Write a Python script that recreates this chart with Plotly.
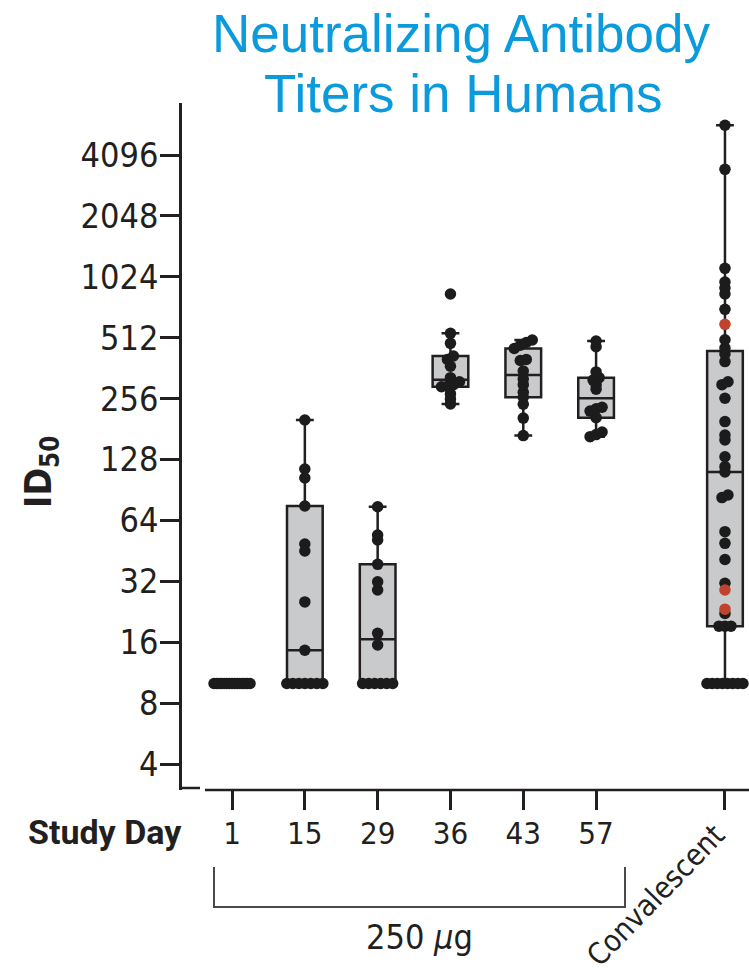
import numpy as np
import plotly.graph_objects as go

# ---------------- data ----------------
days = ['1', '15', '29', '36', '43', '57', 'Convalescent']
tick_titers = [4, 8, 16, 32, 64, 128, 256, 512, 1024, 2048, 4096]

day1 = [10] * 15
day15 = [10] * 7 + [14.6, 25.3, 45.2, 48.9, 75.4, 103.7, 114.9, 200.7]
day29 = [10] * 6 + [15.5, 17.7, 29.0, 31.8, 38.8, 51.2, 54.2, 74.8]
day36 = [241, 255, 270, 293, 295, 300, 310, 325, 370, 400, 416, 480, 538, 842]
day43 = [168, 205, 240, 260, 275, 300, 320, 350, 395, 400, 453, 470, 485, 499]
day57 = [166, 170, 175, 206, 222, 228, 232, 285, 300, 316, 325, 347, 462, 493]
convalescent = [10] * 8 + [19.2, 19.2, 19.2, 22.2, 23.3, 29, 31.3, 41, 49.3, 56.3,
                           83, 85.5, 111, 118, 132, 160, 169, 197, 257, 300, 310,
                           390, 425, 455, 500, 596, 707, 842, 901, 965, 1128,
                           3480, 5750]
convalescent_red = [23.3, 29, 596]

groups = [day1, day15, day29, day36, day43, day57, convalescent]

# ---------------- layout helpers ----------------
W, H = 749, 980
L, R, T, B = 182, 749, 103, 790          # plot area in px
xpos = [0, 1, 2, 3, 4, 5, 6.77]          # category slots (gap before convalescent)
XR = [-0.687, 7.10]
px_per_unit = (R - L) / (XR[1] - XR[0])
YR = [np.log10(2 ** 1.573), np.log10(2 ** 12.854)]


def xp(px):
    return (px - L) / (R - L)


def yp(py):
    return (B - py) / (B - T)


def quart_stats(vals):
    v = np.sort(np.log2(vals))
    n = len(v)

    def med(a):
        m = len(a)
        return a[m // 2] if m % 2 else (a[m // 2 - 1] + a[m // 2]) / 2

    median = med(v)
    if n % 2:
        lo, hi = v[:n // 2], v[n // 2 + 1:]
    else:
        lo, hi = v[:n // 2], v[n // 2:]
    q1, q3 = med(lo), med(hi)
    iqr = q3 - q1
    lf = v[v >= q1 - 1.5 * iqr].min()
    uf = v[v <= q3 + 1.5 * iqr].max()
    return [float(2 ** x) for x in (q1, median, q3, lf, uf)]


def swarm(vals, center, thr=0.06, max_w=36.0, step_px=6.0):
    lv = np.log2(np.asarray(vals, dtype=float))
    order = np.argsort(lv, kind='stable')
    offs = np.zeros(len(vals))
    clusters, cur = [], [order[0]]
    for a, b in zip(order[:-1], order[1:]):
        if lv[b] - lv[a] < thr:
            cur.append(b)
        else:
            clusters.append(cur)
            cur = [b]
    clusters.append(cur)
    for c in clusters:
        k = len(c)
        if k < 2:
            continue
        step = min(step_px, max_w / (k - 1))
        for i, idx in enumerate(c):
            offs[idx] = (i - (k - 1) / 2) * step
    return center + offs / px_per_unit


INK = '#231f20'
DOT = '#1c1c1c'
RED = '#bf432d'
BLUE = '#0b9bdc'
BOXFILL = '#c9cacc'
COND = 'DejaVu Sans Condensed, DejaVu Sans, sans-serif'

fig = go.Figure()

# boxes
for g, x in zip(groups, xpos):
    q1, med, q3, lf, uf = quart_stats(g)
    fig.add_trace(go.Box(
        x=[x], q1=[q1], median=[med], q3=[q3], lowerfence=[lf], upperfence=[uf],
        width=0.49, whiskerwidth=0.5, boxpoints=False,
        fillcolor=BOXFILL, line=dict(color=INK, width=2.5),
        showlegend=False, hoverinfo='skip'))

# points
for g, x in zip(groups[:-1], xpos[:-1]):
    fig.add_trace(go.Scatter(
        x=swarm(g, x), y=g, mode='markers',
        marker=dict(size=11.5, color=DOT, line=dict(width=0)),
        showlegend=False))

cx = swarm(convalescent, xpos[-1])
is_red = np.array([v in convalescent_red for v in convalescent])
cv = np.array(convalescent, dtype=float)
fig.add_trace(go.Scatter(x=cx[~is_red], y=cv[~is_red], mode='markers',
                         marker=dict(size=11.5, color=DOT, line=dict(width=0)),
                         showlegend=False))
fig.add_trace(go.Scatter(x=cx[is_red], y=cv[is_red], mode='markers',
                         marker=dict(size=11.5, color=RED, line=dict(width=0)),
                         showlegend=False))

# ---------------- annotations / shapes ----------------
annotations = [
    dict(text='Neutralizing Antibody', x=xp(461), y=yp(33), xref='paper', yref='paper',
         showarrow=False, xanchor='center', yanchor='middle',
         font=dict(family='Liberation Sans, Arial, sans-serif', size=53, color=BLUE)),
    dict(text='Titers in Humans', x=xp(463), y=yp(93), xref='paper', yref='paper',
         showarrow=False, xanchor='center', yanchor='middle',
         font=dict(family='Liberation Sans, Arial, sans-serif', size=53, color=BLUE)),
    dict(text='<b>ID<sub>50</sub></b>', x=xp(41), y=yp(472), xref='paper', yref='paper',
         showarrow=False, textangle=-90, xanchor='center', yanchor='middle',
         font=dict(family=COND, size=37, color=INK)),
    dict(text='<b>Study Day</b>', x=xp(184), y=yp(832), xref='paper', yref='paper',
         showarrow=False, xanchor='right', yanchor='middle',
         font=dict(family='Roboto, sans-serif', size=34, color=INK)),
    dict(text='250 <i>μ</i>g', x=xp(419), y=yp(937), xref='paper', yref='paper',
         showarrow=False, xanchor='center', yanchor='middle',
         font=dict(family=COND, size=34, color=INK)),
    dict(text=days[-1], x=xp(655), y=yp(895), xref='paper', yref='paper',
         showarrow=False, textangle=-46, xanchor='center', yanchor='middle',
         font=dict(family=COND, size=30, color=INK)),
]

shapes = [
    # x-axis line (detached from y axis)
    dict(type='line', xref='paper', yref='paper', x0=xp(205), x1=1.0, y0=yp(790), y1=yp(790),
         line=dict(color=INK, width=2.5)),
    # short foot at the bottom of the y axis
    dict(type='line', xref='paper', yref='paper', x0=xp(181), x1=xp(200), y0=yp(788), y1=yp(788),
         line=dict(color=INK, width=2.5)),
    # bracket under the 250 ug days
    dict(type='path', xref='paper', yref='paper',
         path=f'M {xp(214)},{yp(867)} L {xp(214)},{yp(907)} L {xp(625)},{yp(907)} L {xp(625)},{yp(867)}',
         line=dict(color='#4a4a4a', width=2)),
]

fig.update_layout(
    width=W, height=H,
    margin=dict(l=L, r=W - R, t=T, b=H - B, pad=0),
    paper_bgcolor='white', plot_bgcolor='white',
    annotations=annotations, shapes=shapes,
    xaxis=dict(range=XR, tickmode='array', tickvals=xpos,
               ticktext=days[:-1] + [' '],
               ticks='outside', ticklen=19, tickwidth=2.5, tickcolor=INK,
               ticklabelstandoff=-3,
               showline=False, showgrid=False, zeroline=False,
               tickfont=dict(family=COND, size=31, color=INK)),
    yaxis=dict(type='log', range=YR, tickmode='array', tickvals=tick_titers,
               ticktext=[str(t) for t in tick_titers],
               ticks='outside', ticklen=19, tickwidth=2.5, tickcolor=INK,
               ticklabelstandoff=-5,
               showline=True, linewidth=2.5, linecolor=INK,
               showgrid=False, zeroline=False,
               tickfont=dict(family=COND, size=34, color=INK)),
)

fig.write_html('out.html',
               config={'displayModeBar': False},
               post_script="document.body.style.margin='0px';"
                           "document.documentElement.style.overflow='hidden';")
